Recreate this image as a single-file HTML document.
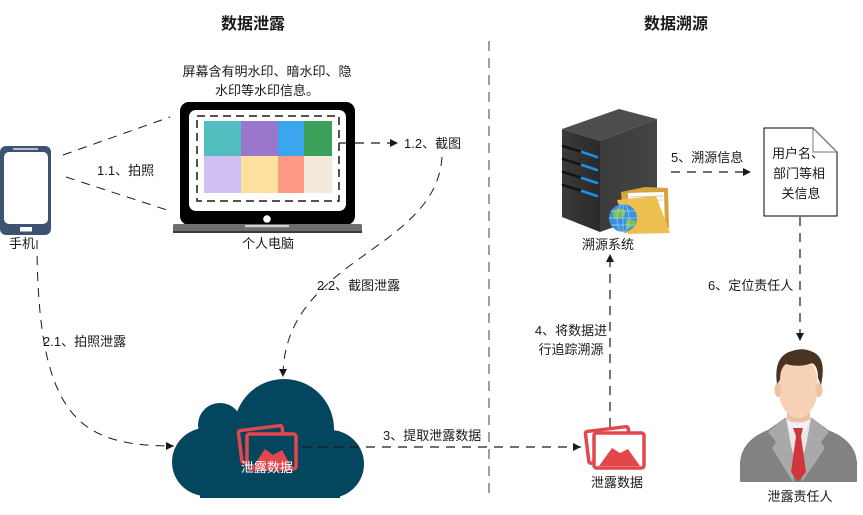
<!DOCTYPE html>
<html><head><meta charset="utf-8">
<style>
html,body{margin:0;padding:0;background:#fff;}
body{width:863px;height:515px;overflow:hidden;}
svg{display:block;}
text{font-family:"Liberation Sans","Noto Sans CJK SC","WenQuanYi Zen Hei",sans-serif;font-size:13px;fill:#1a1a1a;}
.t{font-size:16px;font-weight:bold;}
</style></head>
<body>
<svg width="863" height="515" viewBox="0 0 863 515" xmlns="http://www.w3.org/2000/svg">
<defs>
<marker id="ah" markerWidth="10" markerHeight="10" refX="8" refY="4" orient="auto" markerUnits="userSpaceOnUse">
<path d="M0,0 L8,4 L0,8 Z" fill="#1a1a1a"/>
</marker>
<linearGradient id="sf" x1="0" y1="0" x2="1" y2="0">
<stop offset="0" stop-color="#3a3a3a"/><stop offset="1" stop-color="#2a2a2a"/>
</linearGradient>
<linearGradient id="sr" x1="0" y1="0" x2="1" y2="0">
<stop offset="0" stop-color="#3c3c3c"/><stop offset="1" stop-color="#444"/>
</linearGradient>
</defs>

<!-- Titles -->
<text class="t" x="253" y="29" text-anchor="middle">数据泄露</text>
<text class="t" x="676" y="29" text-anchor="middle">数据溯源</text>

<!-- divider -->
<line x1="489" y1="41" x2="489" y2="500" stroke="#808080" stroke-width="1.5" stroke-dasharray="10 7"/>

<!-- caption -->
<text x="267" y="76" text-anchor="middle">屏幕含有明水印、暗水印、隐</text>
<text x="267" y="95" text-anchor="middle">水印等水印信息。</text>

<!-- Phone -->
<rect x="0" y="146" width="51" height="89" rx="6" fill="#3D5371"/>
<rect x="4" y="152" width="44" height="72" rx="5" fill="#fff"/>
<line x1="13" y1="149" x2="38" y2="149" stroke="#fff" stroke-width="1.3"/>
<rect x="20" y="227" width="12" height="4.5" rx="0.5" fill="#fff"/>
<text x="22" y="248" text-anchor="middle">手机</text>

<!-- Laptop -->
<rect x="180" y="102" width="175" height="123" rx="9" fill="#000"/>
<rect x="189" y="110" width="157" height="101" rx="7" fill="#fff"/>
<rect x="204" y="121" width="37" height="35" fill="#52BEC0"/>
<rect x="241" y="121" width="37" height="35" fill="#9B77CB"/>
<rect x="278" y="121" width="26" height="35" fill="#3BA6EF"/>
<rect x="304" y="121" width="28" height="35" fill="#3DA05A"/>
<rect x="204" y="156" width="37" height="37" fill="#CFBFF3"/>
<rect x="241" y="156" width="37" height="37" fill="#FEE09D"/>
<rect x="278" y="156" width="26" height="37" fill="#FE9A84"/>
<rect x="304" y="156" width="28" height="37" fill="#F2EADC"/>
<rect x="197" y="116" width="142" height="85" fill="none" stroke="#1a1a1a" stroke-width="1.5" stroke-dasharray="8 5"/>
<circle cx="267" cy="219" r="3.8" fill="#fff"/>
<rect x="173" y="224" width="189" height="9" rx="1.5" fill="#6e6e6e"/>
<rect x="173" y="231" width="189" height="2" fill="#3a3a3a"/>
<rect x="245" y="225" width="44" height="2.2" fill="#d0d0d0"/>
<text x="268" y="248" text-anchor="middle">个人电脑</text>

<!-- 1.1 lines -->
<line x1="63" y1="155" x2="170" y2="117" stroke="#1a1a1a" stroke-width="1" stroke-dasharray="9 7"/>
<line x1="66" y1="177" x2="170" y2="211" stroke="#1a1a1a" stroke-width="1" stroke-dasharray="9 7"/>
<text x="97" y="175">1.1、拍照</text>

<!-- 1.2 -->
<line x1="339" y1="143" x2="398" y2="143" stroke="#1a1a1a" stroke-width="1.2" stroke-dasharray="9 7" marker-end="url(#ah)"/>
<text x="404" y="148">1.2、截图</text>

<!-- 2.2 curve -->
<path d="M442,157 C436,252 283,258 283,377" fill="none" stroke="#1a1a1a" stroke-width="1" stroke-dasharray="9 7" marker-end="url(#ah)"/>
<text x="317" y="290">2.2、截图泄露</text>

<!-- 2.1 curve -->
<path d="M37,240 C37,420 80,446 174,446" fill="none" stroke="#1a1a1a" stroke-width="1" stroke-dasharray="9 7" marker-end="url(#ah)"/>
<text x="43" y="346">2.1、拍照泄露</text>

<!-- Cloud -->
<g fill="#05465F">
<circle cx="284" cy="429" r="50"/>
<circle cx="220" cy="425" r="22"/>
<circle cx="206" cy="462" r="34"/>
<circle cx="330" cy="464" r="34"/>
<rect x="206" y="440" width="124" height="58"/>
<rect x="200" y="470" width="140" height="28" rx="0"/>
</g>
<rect x="170" y="498" width="200" height="10" fill="#fff"/>
<!-- cloud icon -->
<g fill="none" stroke="#E4474B" stroke-width="3.5">
<rect x="240" y="428" width="44" height="32" rx="2" transform="rotate(-7 262 444)"/>
<rect x="247" y="434" width="49" height="35" rx="2.5" fill="#05465F"/>
</g>
<polygon points="252,468 265,449 273,455 282,450 292,468" fill="#E4474B"/>
<text x="267" y="472" text-anchor="middle" style="fill:#fff">泄露数据</text>

<!-- 3 -->
<line x1="302" y1="447" x2="581" y2="447" stroke="#1a1a1a" stroke-width="1.2" stroke-dasharray="9 7" marker-end="url(#ah)"/>
<text x="383" y="440">3、提取泄露数据</text>

<!-- right image icon -->
<g fill="none" stroke="#E4474B" stroke-width="3.5">
<rect x="587" y="429" width="43" height="32" rx="2" transform="rotate(-7 608 445)"/>
<rect x="594" y="433" width="50" height="35" rx="2.5" fill="#fff"/>
</g>
<polygon points="599,466 612,448 620,453 628,449 640,466" fill="#E4474B"/>
<text x="617" y="487" text-anchor="middle">泄露数据</text>

<!-- 4 -->
<line x1="610" y1="427" x2="610" y2="254" stroke="#1a1a1a" stroke-width="1.2" stroke-dasharray="9 7" marker-end="url(#ah)"/>
<text x="571" y="335" text-anchor="middle">4、将数据进</text>
<text x="571" y="354" text-anchor="middle">行追踪溯源</text>

<!-- Server -->
<polygon points="562,129 619,109 657,119 600,141" fill="#4d4d4d"/>
<polygon points="562,129 600,141 600,232 562,217" fill="url(#sf)"/>
<polygon points="600,141 657,119 657,212 600,232" fill="url(#sr)"/>
<g stroke-width="2.6" stroke-linecap="round">
<line x1="563" y1="146" x2="582" y2="152" stroke="#141414"/>
<line x1="582" y1="152" x2="597" y2="157" stroke="#1E8FE0"/>
<line x1="563" y1="159" x2="582" y2="165" stroke="#141414"/>
<line x1="582" y1="165" x2="597" y2="170" stroke="#1E8FE0"/>
<line x1="563" y1="172" x2="582" y2="178" stroke="#141414"/>
<line x1="582" y1="178" x2="597" y2="183" stroke="#1E8FE0"/>
<line x1="563" y1="185" x2="582" y2="191" stroke="#141414"/>
<line x1="582" y1="191" x2="597" y2="196" stroke="#1E8FE0"/>
</g>
<!-- folder -->
<polygon points="621,192 645,187 668,188 669,228 624,233" fill="#D6A43A"/>
<polygon points="628,193 664,192 665,227 630,229" fill="#fff"/>
<line x1="630" y1="197" x2="663" y2="196" stroke="#ccc"/>
<line x1="631" y1="201" x2="663" y2="200" stroke="#ccc"/>
<polygon points="617,200 656,196 670,233 628,234" fill="#EDBF4E"/>
<!-- globe -->
<circle cx="623" cy="218" r="14" fill="#3B8EDB"/>
<path d="M613,211 Q618,207 624,209 Q628,214 622,217 Q617,221 613,218 Z" fill="#7BC24A"/>
<path d="M626,220 Q633,218 636,222 Q632,229 626,229 Z" fill="#7BC24A"/>
<g fill="none" stroke="#9fd0ff" stroke-width="0.7">
<ellipse cx="623" cy="218" rx="6" ry="14"/>
<line x1="609" y1="218" x2="637" y2="218"/>
<line x1="611" y1="211" x2="635" y2="211"/>
<line x1="611" y1="225" x2="635" y2="225"/>
<line x1="623" y1="204" x2="623" y2="232"/>
</g>
<text x="608" y="249" text-anchor="middle">溯源系统</text>

<!-- 5 -->
<line x1="671" y1="172" x2="751" y2="172" stroke="#1a1a1a" stroke-width="1.2" stroke-dasharray="9 7" marker-end="url(#ah)"/>
<text x="671" y="162">5、溯源信息</text>

<!-- Document -->
<path d="M764,128 L813,128 L837,152 L837,216 L764,216 Z" fill="#fff" stroke="#000" stroke-width="1"/>
<path d="M813,128 L813,152 L837,152" fill="none" stroke="#777" stroke-width="1"/>
<path d="M813,128 L837,152" fill="none" stroke="#777" stroke-width="1.2"/>
<text x="798" y="158" text-anchor="middle">用户名、</text>
<text x="799" y="178" text-anchor="middle">部门等相</text>
<text x="801" y="198" text-anchor="middle">关信息</text>

<!-- 6 -->
<line x1="800" y1="217" x2="800" y2="341" stroke="#1a1a1a" stroke-width="1.2" stroke-dasharray="9 7" marker-end="url(#ah)"/>
<text x="708" y="290">6、定位责任人</text>

<!-- Person -->
<path d="M740,482 L740,462 Q742,440 768,430 L785,418 L812,418 L828,430 Q855,440 857,462 L857,482 Z" fill="#828282"/>
<polygon points="785,418 768,432 776,442 772,448 793,482 797,440" fill="#A9A9A9"/>
<polygon points="812,418 829,432 821,442 825,448 802,482 799,440" fill="#A9A9A9"/>
<polygon points="786,418 811,418 806,446 798,470 791,446" fill="#E8E8E8"/>
<rect x="787" y="402" width="23" height="20" fill="#EBC0A4"/>
<polygon points="786,419 797,425 811,419 805,432 797,428 791,432" fill="#F2F2F2"/>
<polygon points="793,428 803,428 801,436 806,472 798,482 791,472 796,436" fill="#D0373D"/>
<ellipse cx="798" cy="386" rx="20" ry="32" fill="#F8D2B7"/>
<ellipse cx="778" cy="390" rx="3.5" ry="7" fill="#EFC2A6"/>
<ellipse cx="819" cy="390" rx="3.5" ry="7" fill="#EFC2A6"/>
<path d="M777,384 Q773,356 792,351 Q803,347 813,352 Q827,358 821,385 L818,378 Q818,366 812,363 Q800,368 786,364 Q780,368 780,380 Z" fill="#4A3322"/>
<text x="800" y="501" text-anchor="middle">泄露责任人</text>
</svg>
</body></html>
